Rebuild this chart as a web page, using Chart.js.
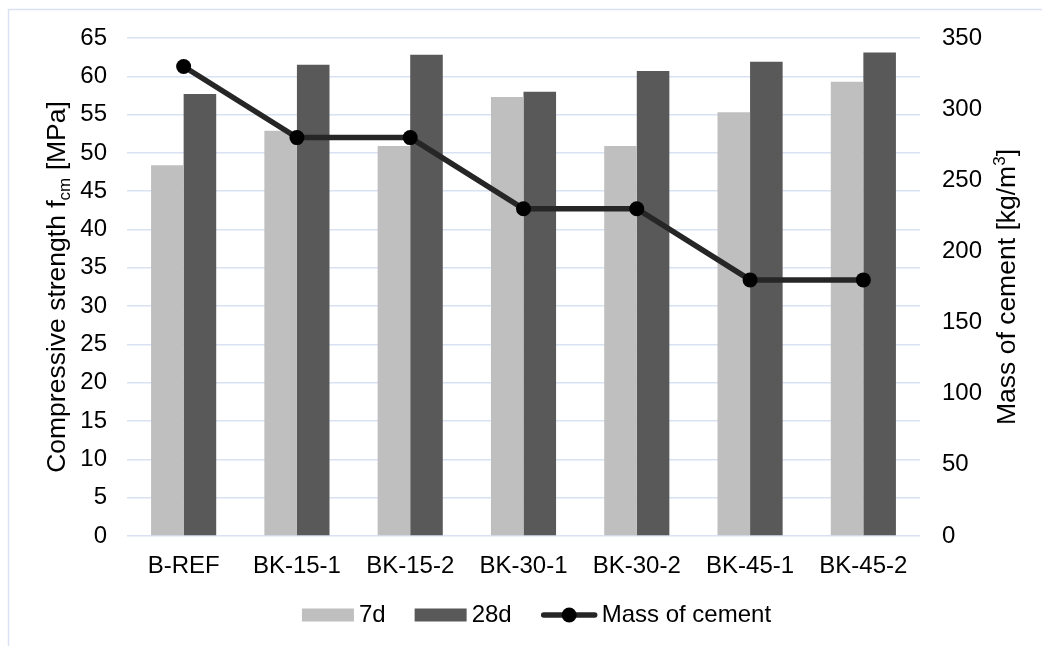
<!DOCTYPE html>
<html lang="en">
<head>
  <meta charset="UTF-8"/>
  <title>Compressive strength and mass of cement</title>
  <script src="https://cdn.jsdelivr.net/npm/chart.js"></script>
  <style>
    html, body { margin: 0; padding: 0; background: #fff; }
    #wrap { width: 1042px; height: 646px; position: relative; }
  </style>
</head>
<body>
  <div id="wrap"><canvas id="chart"></canvas></div>

  <script>
    // data
    const categories = ["B-REF", "BK-15-1", "BK-15-2", "BK-30-1", "BK-30-2", "BK-45-1", "BK-45-2"];
    const strength7d  = [48.4, 52.9, 50.9, 57.3, 50.9, 55.3, 59.3];
    const strength28d = [57.7, 61.5, 62.8, 58.0, 60.7, 61.9, 63.1];
    const cementMass  = [330, 280, 280, 230, 230, 180, 180];
    const seriesNames = ["7d", "28d", "Mass of cement"];
    const strengthAxis = { min: 0, max: 65, step: 5 };
    const massAxis     = { min: 0, max: 350, step: 50 };

    const FONT = "'Liberation Sans', Arial, sans-serif";
    const FS = 24;      // ticks + legend
    const TFS = 26.5;   // axis titles
    const SFS = 17;     // sub / superscript
    const light = "#bfbfbf", dark = "#595959", lineCol = "#262626";

    // titles with sub/superscript, frame and legend drawn by hand
    const extras = {
      id: "extras",
      afterDraw(chart) {
        const ctx = chart.ctx, area = chart.chartArea;
        const midY = (area.top + area.bottom) / 2;
        ctx.save();
        // outer frame
        ctx.strokeStyle = "#d9e2f3";
        ctx.lineWidth = 1.5;
        ctx.strokeRect(8.5, 9.5, 1040, 660);

        function richText(parts, cx, cy) {
          let w = 0;
          parts.forEach(p => {
            ctx.font = (p[1] === "n" ? TFS : SFS) + "px " + FONT;
            w += ctx.measureText(p[0]).width;
          });
          ctx.save();
          ctx.translate(cx, cy);
          ctx.rotate(-Math.PI / 2);
          let x = -w / 2;
          ctx.fillStyle = "#000";
          ctx.textBaseline = "alphabetic";
          parts.forEach(p => {
            ctx.font = (p[1] === "n" ? TFS : SFS) + "px " + FONT;
            const dy = p[1] === "sub" ? 5 : p[1] === "sup" ? -10 : 0;
            ctx.fillText(p[0], x, 8 + dy);
            x += ctx.measureText(p[0]).width;
          });
          ctx.restore();
        }
        richText([["Compressive strength f", "n"], ["cm", "sub"], [" [MPa]", "n"]], 57, midY);
        richText([["Mass of cement [kg/m", "n"], ["3", "sup"], ["]", "n"]], 1007, midY);

        // legend: bars first, then the line
        ctx.font = FS + "px " + FONT;
        ctx.textBaseline = "middle";
        const ly = 615;
        const items = seriesNames.map(n => chart.data.datasets.find(d => d.label === n))
          .map(d => ({ label: d.label, type: d.type, color: d.backgroundColor }));
        const boxW = 52, gapText = 5, gapItem = 29, lineW = 57;
        let total = 0;
        items.forEach((it, i) => {
          total += (it.type === "line" ? lineW : boxW) + gapText + ctx.measureText(it.label).width;
          if (i < items.length - 1) total += gapItem;
        });
        let x = 537 - total / 2;
        items.forEach(it => {
          if (it.type === "line") {
            ctx.strokeStyle = lineCol;
            ctx.lineWidth = 5.5;
            ctx.lineCap = "round";
            ctx.beginPath();
            ctx.moveTo(x + 3, ly);
            ctx.lineTo(x + lineW - 3, ly);
            ctx.stroke();
            ctx.fillStyle = "#000";
            ctx.beginPath();
            ctx.arc(x + lineW / 2, ly, 7.5, 0, Math.PI * 2);
            ctx.fill();
            x += lineW - 1;
          } else {
            ctx.fillStyle = it.color;
            ctx.fillRect(x, ly - 6.5, boxW, 13);
            x += boxW;
          }
          x += gapText;
          ctx.fillStyle = "#000";
          ctx.fillText(it.label, x, ly);
          x += ctx.measureText(it.label).width + gapItem;
        });
        ctx.restore();
      }
    };

    new Chart(document.getElementById("chart"), {
      data: {
        labels: categories,
        datasets: [
          {
            type: "line", label: seriesNames[2], data: cementMass, yAxisID: "y2", order: 0,
            borderColor: lineCol, backgroundColor: "#000", borderWidth: 5.5,
            pointRadius: 7.5, pointBackgroundColor: "#000", pointBorderColor: "#000", pointBorderWidth: 0,
            tension: 0
          },
          {
            type: "bar", label: seriesNames[0], data: strength7d, yAxisID: "y", order: 1,
            backgroundColor: light, categoryPercentage: 0.575, barPercentage: 1
          },
          {
            type: "bar", label: seriesNames[1], data: strength28d, yAxisID: "y", order: 1,
            backgroundColor: dark, categoryPercentage: 0.575, barPercentage: 1
          }
        ]
      },
      options: {
        responsive: true,
        maintainAspectRatio: false,
        animation: false,
        layout: { padding: { top: 38, bottom: 0, left: 0, right: 0 } },
        plugins: { legend: { display: false }, tooltip: { enabled: false } },
        scales: {
          x: {
            grid: { display: false },
            border: { display: false },
            ticks: { color: "#000", font: { family: FONT, size: FS }, padding: 8, maxRotation: 0 },
            afterFit: s => { s.height = 110; }
          },
          y: {
            position: "left",
            min: strengthAxis.min, max: strengthAxis.max,
            grid: { color: "#d9e2f3", lineWidth: 1.5, drawTicks: false },
            border: { display: false },
            ticks: { stepSize: strengthAxis.step, color: "#000", font: { family: FONT, size: FS }, padding: 20 },
            afterFit: s => { s.width = 127; }
          },
          y2: {
            position: "right",
            min: massAxis.min, max: massAxis.max,
            grid: { display: false, drawTicks: false },
            border: { display: false },
            ticks: { stepSize: massAxis.step, color: "#000", font: { family: FONT, size: FS }, padding: 22 },
            afterFit: s => { s.width = 122; }
          }
        }
      },
      plugins: [extras]
    });
  </script>
</body>
</html>
